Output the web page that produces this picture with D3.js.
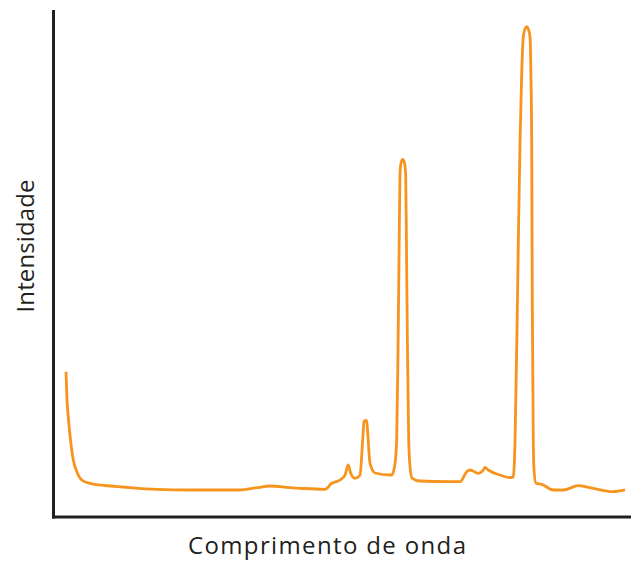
<!DOCTYPE html>
<html>
<head>
  <meta charset="utf-8"/>
  <title>Espectro</title>
  <script src="https://cdn.jsdelivr.net/npm/d3@7"></script>
<style>
body { margin: 0; background: #fff; }
.axis-label { font-family: "Open Sans", sans-serif; font-size: 24px; fill: #231f20; }
</style>
</head>
<body>
  <svg id="chart"></svg>
  <script>
    // wavelength (arbitrary units 0-100) and intensity (0-100)
    var wavelength = [
      2.25, 2.42, 2.65, 3.03, 3.51, 4.15, 4.97, 6.40, 9.0, 12.11, 17.94, 23.70, 32.35, 35.24, 37.54,
      41.0, 42.73, 47.06, 48.22, 49.65, 50.52, 51.09, 51.50, 52.25, 53.11, 53.58, 53.81, 54.03, 54.27,
      54.45, 54.84, 55.71, 58.30, 58.60, 59.12, 59.46, 59.69, 59.88, 60.03, 60.21, 60.50, 60.81, 61.02,
      61.16, 61.33, 61.54, 61.76, 62.11, 63.49, 68.69, 70.42, 71.57, 72.15, 73.58, 74.45, 74.74, 75.31,
      77.34, 79.07, 79.64, 79.84, 79.93, 80.33, 80.54, 80.80, 81.06, 81.37, 81.66, 81.96, 82.23, 82.53,
      82.70, 82.82, 82.93, 83.10, 83.22, 83.56, 84.55, 86.56, 88.29, 90.88, 92.91, 96.94, 98.96
    ];
    var intensity = [
      28.66, 23.08, 19.7, 15.19, 11.24, 8.88, 7.30, 6.65, 6.21, 5.92, 5.46, 5.33, 5.33, 5.78, 6.11,
      5.78, 5.66, 5.46, 6.65, 7.30, 8.28, 10.26, 8.62, 7.63, 8.28, 15.19, 18.80, 19.07, 18.93,
      16.57, 10.65, 8.68, 8.28, 8.28, 10.06, 15.19, 32.94, 52.66, 67.46, 69.82, 70.55, 69.82, 67.46,
      52.66, 32.94, 15.19, 10.06, 7.69, 7.10, 6.96, 6.96, 8.93, 9.27, 8.62, 9.27, 9.80, 9.27,
      8.28, 7.75, 7.95, 11.24, 14.60, 40.83, 56.61, 73.77, 86.19, 94.73, 96.25, 96.71, 96.25, 94.73,
      86.19, 73.77, 40.83, 14.60, 9.27, 6.65, 6.45, 5.33, 5.33, 6.17, 5.78, 4.99, 5.33
    ];
    var xTitle = "Comprimento de onda";
    var yTitle = "Intensidade";

    var width = 631, height = 562;
    var x = d3.scaleLinear().domain([0, 100]).range([53, 631]);
    var y = d3.scaleLinear().domain([0, 100]).range([517, 10]);

    var svg = d3.select("#chart").attr("width", width).attr("height", height);

    var points = wavelength.map(function(d, i) { return [d, intensity[i]]; });

    var line = d3.line()
        .x(function(d) { return x(d[0]); })
        .y(function(d) { return y(d[1]); })
        .curve(d3.curveMonotoneX);

    svg.append("path")
        .datum(points)
        .attr("d", line)
        .attr("fill", "none")
        .attr("stroke", "#f7941d")
        .attr("stroke-width", 2.8)
        .attr("stroke-linejoin", "round");

    // axes: plain lines, no ticks
    svg.append("line")
        .attr("x1", x(0) + 0.5).attr("x2", x(0) + 0.5)
        .attr("y1", y(100)).attr("y2", y(0) + 1.5)
        .attr("stroke", "#231f20").attr("stroke-width", 3);
    svg.append("line")
        .attr("x1", x(0) - 1).attr("x2", x(100))
        .attr("y1", y(0)).attr("y2", y(0))
        .attr("stroke", "#231f20").attr("stroke-width", 3);

    svg.append("text")
        .attr("class", "axis-label")
        .attr("x", 327).attr("y", 554)
        .attr("text-anchor", "middle")
        .attr("textLength", 278)
        .attr("lengthAdjust", "spacing")
        .text(xTitle);

    svg.append("text")
        .attr("class", "axis-label")
        .attr("transform", "translate(34,246) rotate(-90)")
        .attr("text-anchor", "middle")
        .attr("textLength", 133)
        .attr("lengthAdjust", "spacing")
        .text(yTitle);
  </script>
</body>
</html>
